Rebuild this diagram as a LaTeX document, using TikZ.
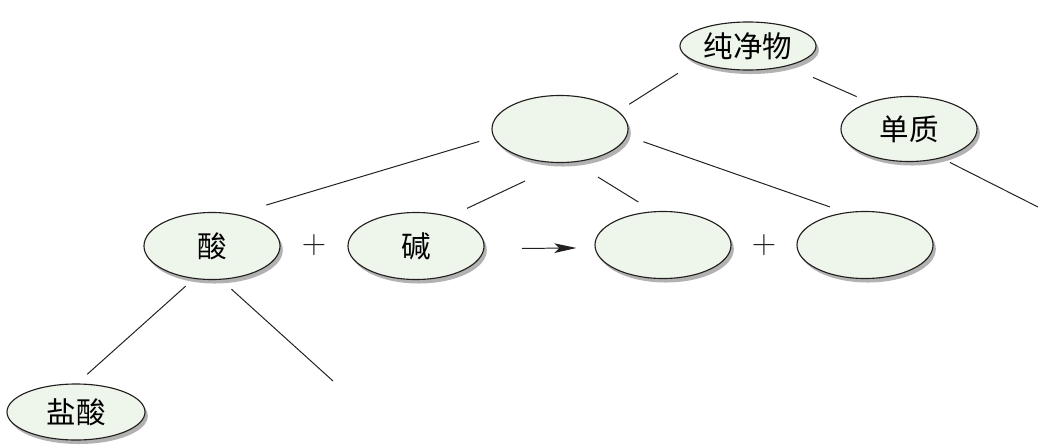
\documentclass[tikz,border=0pt]{standalone}
\usepackage{fontspec}
\usepackage{tikz}
\usetikzlibrary{shapes.geometric,shadows,arrows.meta}
\newfontfamily\cjk{Noto Sans CJK SC}
\definecolor{ovalfill}{HTML}{EEF5EA}
\definecolor{ink}{HTML}{231F20}

\begin{document}
\begin{tikzpicture}[x=0.025cm,y=-0.025cm,
    oval/.style={ellipse,draw=ink,line width=0.8pt,fill=ovalfill,inner sep=0,
      minimum width=3.4cm,minimum height=1.675cm,font=\cjk\fontsize{21}{24}\selectfont,
      drop shadow={shadow xshift=0.07cm,shadow yshift=-0.1cm,fill=black!30,opacity=1}},
    plus/.style={text=ink,font=\fontsize{24}{28}\selectfont},
    gap/.style 2 args={draw=ink,line width=0.7pt,shorten <=#1,shorten >=#2}]
        \useasboundingbox (0,0) rectangle (1038,447);
        \node[oval,minimum height=1.2cm] (pure) at (748,46) {纯净物};
        \node[oval] (cmpd) at (560,129) {};
        \node[oval,minimum height=1.625cm] (elem) at (909,129) {单质};
        \node[oval] (acid) at (212,246) {酸};
        \node[oval] (base) at (416,246) {碱};
        \node[oval] (salt) at (663,245) {};
        \node[oval] (water) at (865,245) {};
        \node[oval,minimum width=3.45cm,minimum height=1.4cm] (hcl) at (76,412) {盐酸};
        \node[plus] (p1) at (314,245) {+};
        \node[plus] (p2) at (764,245) {+};
        \coordinate (e1) at (1038,207);
        \coordinate (a2) at (333,381);
        \draw[gap={0.53cm}{0.32cm}] (pure.197.5) -- (cmpd.17.9);
        \draw[gap={0.70cm}{0.34cm}] (pure.333.8) -- (elem.146.4);
        \draw[gap={0.24cm}{0cm}] (elem.318.6) -- (e1);
        \draw[gap={0.37cm}{0.79cm}] (cmpd.187.6) -- (acid.53.5);
        \draw[gap={1.05cm}{0.47cm}] (cmpd.275.2) -- (base.41.3);
        \draw[gap={0.70cm}{0.44cm}] (cmpd.293.4) -- (salt.106.6);
        \draw[gap={0.43cm}{0.41cm}] (cmpd.354.6) -- (water.121.1);
        \draw[gap={0.27cm}{0.34cm}] (acid.241.8) -- (hcl.88);
        \draw[gap={0.35cm}{0cm}] (acid.285.1) -- (a2);
        \draw[gap={0.93cm}{0.45cm},-{Stealth[length=0.55cm,width=0.24cm,inset=0.12cm]}] ([yshift=-0.07cm]base.east) -- ([yshift=-0.07cm]salt.west);
      \end{tikzpicture}
\end{document}
